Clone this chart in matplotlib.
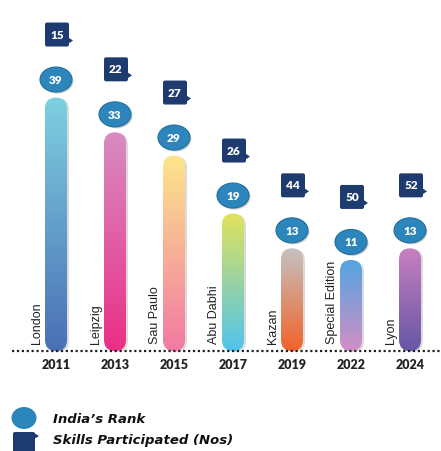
import numpy as np
import matplotlib
matplotlib.use("Agg")
import matplotlib.pyplot as plt
from matplotlib.patches import FancyBboxPatch, Ellipse, Polygon
from matplotlib.colors import LinearSegmentedColormap

years  = ["2011", "2013", "2015", "2017", "2019", "2022", "2024"]
cities = ["London", "Leipzig", "Sau Paulo", "Abu Dabhi", "Kazan", "Special Edition", "Lyon"]
rank   = [39, 33, 29, 19, 13, 11, 13]
skills = [15, 22, 27, 26, 44, 50, 52]
grad_top = ["#7fd0e0", "#d88cc2", "#fde68b", "#e2e35a", "#c4c2c0", "#52a6e2", "#c880c0"]
grad_bot = ["#4a6fb5", "#ea2f86", "#f279a3", "#4fc4ec", "#f2632a", "#d48ec6", "#6656a6"]

CIRCLE = "#2c86bc"
NAVY   = "#1d3b6f"
BASE   = 4.7        # stem under every bar (rank units)
PXU    = 5.8        # pixels per rank unit

W, H = 441, 452
fig = plt.figure(figsize=(W / 100, H / 100), dpi=100)
ax = fig.add_axes([0, 0, 1, 1])
ax.set_xlim(-56 / 59, (W - 56) / 59)
ax.set_ylim(-(H - 352) / PXU, 352 / PXU)
ax.axis("off")

# pixels per data unit
px_x = fig.dpi * fig.get_figwidth() / np.diff(ax.get_xlim())[0]
px_y = fig.dpi * fig.get_figheight() / np.diff(ax.get_ylim())[0]
aspect = px_x / px_y

bw = 22 / px_x
for i, (r, s) in enumerate(zip(rank, skills)):
    h = r + BASE
    rad = bw / 2
    # shadow
    sh = FancyBboxPatch((i - bw / 2 + 2 / px_x, -1 / px_y), bw, h,
                        boxstyle=f"round,pad=0,rounding_size={rad}",
                        mutation_aspect=aspect, fc="#999999", ec="none",
                        alpha=0.35, zorder=1)
    ax.add_patch(sh)
    patch = FancyBboxPatch((i - bw / 2, 0), bw, h,
                           boxstyle=f"round,pad=0,rounding_size={rad}",
                           mutation_aspect=aspect, fc="none", ec="none", zorder=2)
    ax.add_patch(patch)
    cmap = LinearSegmentedColormap.from_list("g", [grad_bot[i], grad_top[i]])
    im = ax.imshow(np.linspace(0, 1, 256).reshape(-1, 1), cmap=cmap,
                   extent=(i - bw / 2, i + bw / 2, 0, h), origin="lower",
                   aspect="auto", zorder=2, interpolation="bilinear")
    im.set_clip_path(patch)

    # rank ellipse
    cy = h + 18 / px_y
    ax.add_patch(Ellipse((i + 1.5 / px_x, cy - 1.5 / px_y), 32 / px_x, 25 / px_y,
                         fc="#777777", ec="none", alpha=0.35, zorder=3))
    ax.add_patch(Ellipse((i, cy), 32 / px_x, 25 / px_y, fc=CIRCLE,
                         ec="#1f6f9e", lw=0.8, zorder=4))
    ax.text(i, cy, str(r), color="white", fontsize=8.5, fontweight="heavy",
            family="Lato", ha="center", va="center", zorder=5)

    # skills box with tab
    sy = cy + 45 / px_y
    sx = i + 1 / px_x
    half_w, half_h = 12 / px_x, 12 / px_y
    box = FancyBboxPatch((sx - half_w, sy - half_h), 2 * half_w, 2 * half_h,
                         boxstyle=f"round,pad=0,rounding_size={2 / px_x}",
                         mutation_aspect=aspect, fc=NAVY, ec="none", zorder=4)
    ax.add_patch(box)
    ax.add_patch(Polygon([(sx + half_w - 0.5 / px_x, sy - 3 / px_y),
                          (sx + half_w + 4 / px_x, sy - 6 / px_y),
                          (sx + half_w - 0.5 / px_x, sy - 9 / px_y)],
                         closed=True, fc=NAVY, ec="none", zorder=4))
    ax.text(sx, sy + 0.5 / px_y, str(s), color="white", fontsize=8.5,
            fontweight="heavy", family="Lato", ha="center", va="center", zorder=5)

    # city label and year
    ax.text(i - 19 / px_x, 8 / px_y, cities[i], rotation=90, fontsize=9,
            family="Liberation Sans", color="#222222", ha="center", va="bottom",
            zorder=5)
    ax.text(i, -13 / px_y, years[i], fontsize=9, fontweight="heavy",
            family="Lato", color="#222222", ha="center", va="center", zorder=5)

ax.axhline(0, xmin=12 / W, xmax=1, color="#222222", lw=1.6,
           linestyle=(0, (1, 1.2)), zorder=6)

# legend
lx = fig.add_axes([0, 0, 1, 1])
lx.set_xlim(0, W)
lx.set_ylim(H, 0)
lx.axis("off")
lx.add_patch(Ellipse((24, 419), 25, 22, fc=CIRCLE, ec="none"))
lx.add_patch(FancyBboxPatch((13, 433), 22, 30, boxstyle="round,pad=0,rounding_size=2",
                            fc=NAVY, ec="none"))
lx.add_patch(Polygon([(34, 434), (39, 437), (34, 440)], fc=NAVY, ec="none"))
lx.text(53, 420, "India\u2019s Rank", fontsize=9.5, fontweight="bold",
        style="italic", family="DejaVu Sans", color="#111111", va="center", ha="left")
lx.text(53, 441, "Skills Participated (Nos)", fontsize=9.5, fontweight="bold",
        style="italic", family="DejaVu Sans", color="#111111", va="center", ha="left")

fig.savefig("out.png", dpi=100)
